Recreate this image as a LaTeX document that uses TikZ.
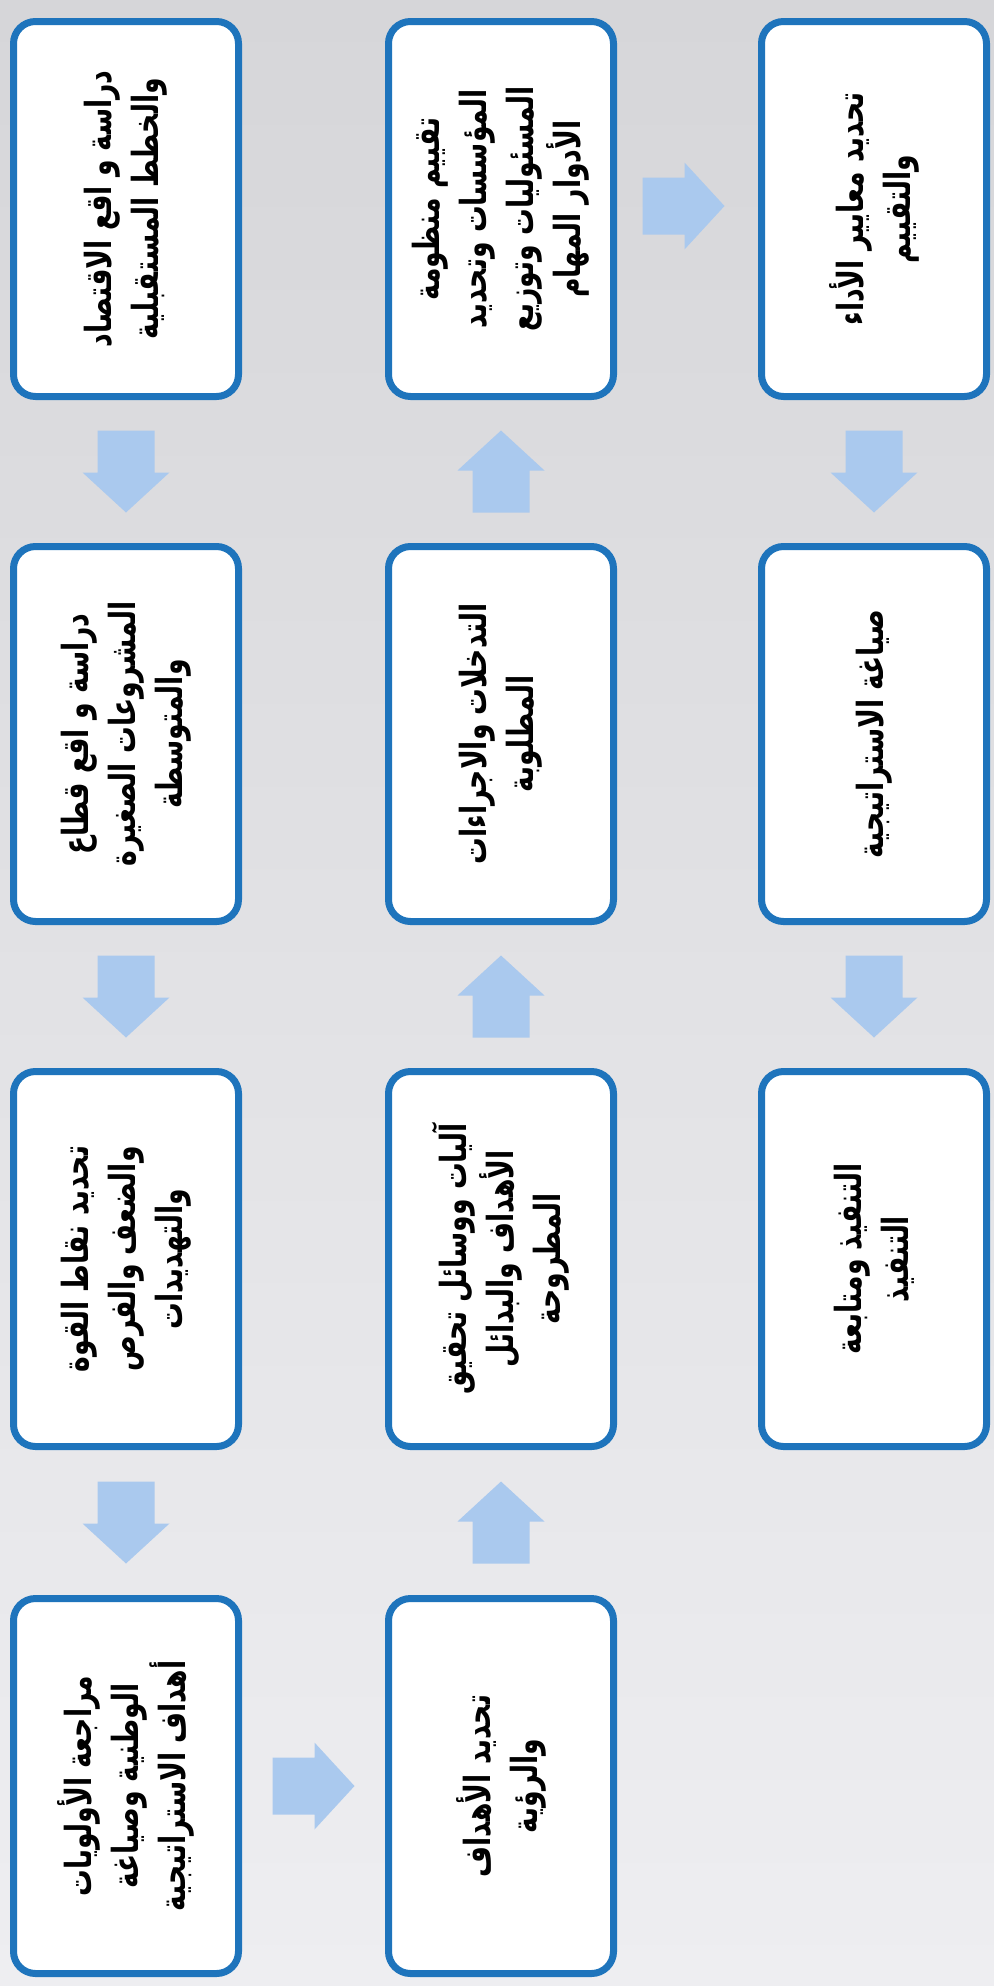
\documentclass[tikz,border=0pt]{standalone}
\usepackage{fontspec}
\newfontfamily\arabicfont[Script=Arabic, FakeStretch=0.74]{DejaVu Sans}
\TeXXeTstate=1
\usetikzlibrary{calc}
\definecolor{boxblue}{RGB}{30,116,188}
\definecolor{arrowblue}{RGB}{170,201,238}
\definecolor{bgtop}{RGB}{214,214,217}
\definecolor{bgbot}{RGB}{238,238,241}
\newcommand{\AR}[1]{\beginR #1\endR}
\newcommand{\boxfont}{\arabicfont\bfseries\fontsize{18pt}{23.5pt}\selectfont\lineskiplimit=-20pt\relax}
\begin{document}
\begin{tikzpicture}[x=0.5pt,y=-0.5pt,
  stepbox/.style={draw=boxblue, line width=3.5pt, fill=white, rounded corners=11pt,
    rotate=90, minimum width=187.5pt, minimum height=112.5pt, inner sep=2pt,
    align=center, font=\boxfont},
  blockarrow/.pic={\fill[arrowblue] (-41,-28.5) -- (1,-28.5) -- (1,-43.5) -- (41,0)
    -- (1,43.5) -- (1,28.5) -- (-41,28.5) -- cycle;}
]
\shade[top color=bgtop, bottom color=bgbot] (0,0) rectangle (994,1986);
\useasboundingbox (0,0) rectangle (994,1986);

% left column
\node[stepbox] (L1) at (126,209) {\AR{دراسة و اقع الاقتصاد}\\\AR{والخطط المستقبلية}};
\node[stepbox] (L2) at (126,734) {\AR{دراسة و اقع قطاع}\\\AR{المشروعات الصغيرة}\\\AR{والمتوسطة}};
\node[stepbox] (L3) at (126,1259) {\AR{تحديد نقاط القوة}\\\AR{والضعف والفرص}\\\AR{والتهديدات}};
\node[stepbox] (L4) at (126,1786) {\AR{مراجعة الأولويات}\\\AR{الوطنية وصياغة}\\\AR{أهداف الاستراتيجية}};
% middle column
\node[stepbox] (M1) at (501,209) {\AR{تقييم منظومة}\\\AR{المؤسسات وتحديد}\\\AR{المسئوليات وتوزيع}\\\AR{الأدوار المهام}};
\node[stepbox] (M2) at (501,734) {\AR{التدخلات والاجراءات}\\\AR{المطلوبة}};
\node[stepbox] (M3) at (501,1259) {\AR{آليات ووسائل تحقيق}\\\AR{الأهداف والبدائل}\\\AR{المطروحة}};
\node[stepbox] (M4) at (501,1786) {\AR{تحديد الأهداف}\\\AR{والرؤية}};
% right column
\node[stepbox] (R1) at (874,209) {\AR{تحديد معايير الأداء}\\\AR{والتقييم}};
\node[stepbox] (R2) at (874,734) {\AR{صياغة الاستراتيجية}};
\node[stepbox] (R3) at (874,1259) {\AR{التنفيذ ومتابعة}\\\AR{التنفيذ}};

% arrows
\pic[rotate=-90] at ($(L1)!0.5!(L2)$) {blockarrow};
\pic[rotate=-90] at ($(L2)!0.5!(L3)$) {blockarrow};
\pic[rotate=-90] at ($(L3)!0.5!(L4)$) {blockarrow};
\pic at ($(L4)!0.5!(M4)$) {blockarrow};
\pic[rotate=90] at ($(M4)!0.5!(M3)$) {blockarrow};
\pic[rotate=90] at ($(M3)!0.5!(M2)$) {blockarrow};
\pic[rotate=90] at ($(M2)!0.5!(M1)$) {blockarrow};
\pic at ($(M1)!0.5!(R1)+(-4,-3)$) {blockarrow};
\pic[rotate=-90] at ($(R1)!0.5!(R2)$) {blockarrow};
\pic[rotate=-90] at ($(R2)!0.5!(R3)$) {blockarrow};
\end{tikzpicture}
\end{document}
